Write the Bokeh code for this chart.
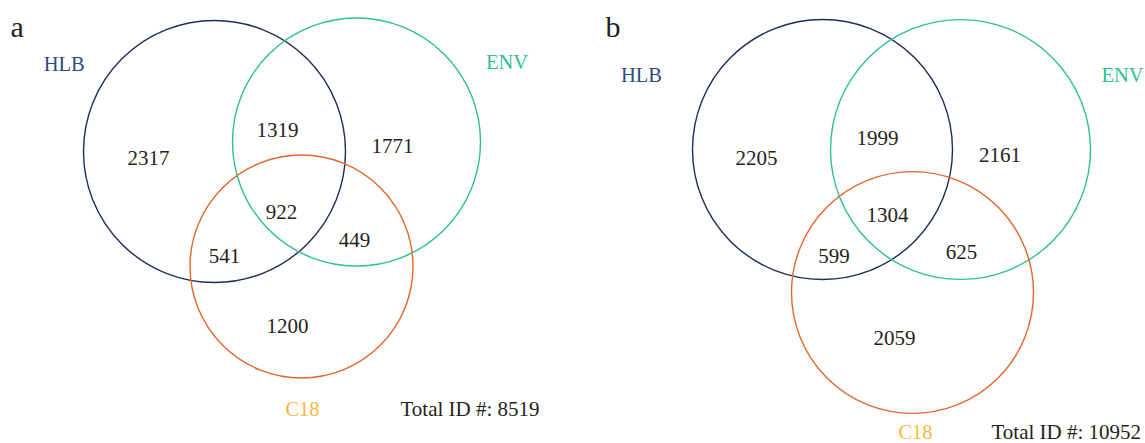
from bokeh.plotting import figure
from bokeh.models import Range1d, ColumnDataSource
from bokeh.core.properties import value
from bokeh.embed import file_html
from bokeh.resources import INLINE

# ---------------- data ----------------
sets = ["HLB", "ENV", "C18"]
regions = ["HLB only", "HLB&ENV", "ENV only", "HLB&ENV&C18", "HLB&C18", "ENV&C18", "C18 only"]
counts_a = [2317, 1319, 1771, 922, 541, 449, 1200]
counts_b = [2205, 1999, 2161, 1304, 599, 625, 2059]
total_a = 8519
total_b = 10952
panel_names = ["a", "b"]

# ---------------- layout (page pixel coordinates) ----------------
W, H = 1145, 443

circ_x_a = [214, 356, 301]
circ_y_a = [151, 141.5, 266]
circ_r_a = [131, 124, 111.5]
circ_x_b = [822, 960, 912]
circ_y_b = [149, 149, 292]
circ_r_b = [130, 130, 121]

num_x_a = [148, 277, 392, 281, 224, 354, 287]
num_y_a = [157.5, 129.5, 145.7, 211, 255.5, 239, 325.5]
num_x_b = [756, 877, 999.5, 887, 833.5, 961, 894]
num_y_b = [157, 137, 154, 214, 255, 251, 337]

set_lab_x_a = [63.7, 506.5, 302]
set_lab_y_a = [63.5, 61, 408]
set_lab_x_b = [641, 1122, 915]
set_lab_y_b = [74, 74, 431]

circle_colors = ["#1d2d55", "#2fbf96", "#e2672b"]
label_colors = ["#2f4b80", "#2fbf96", "#f5b83d"]
TEXT = "#231f20"
FONT = value("Liberation Serif")

p = figure(width=W, height=H, output_backend="svg", toolbar_location=None,
           x_range=Range1d(0, W), y_range=Range1d(H, 0),
           min_border=0, outline_line_color=None)
p.axis.visible = False
p.grid.visible = False
p.background_fill_color = "white"
p.border_fill_color = "white"

for cx, cy, cr, counts, lx, ly, nx, ny, total, tx, ty, name, px in [
    (circ_x_a, circ_y_a, circ_r_a, counts_a, set_lab_x_a, set_lab_y_a, num_x_a, num_y_a, total_a, 400, 408, "a", 10),
    (circ_x_b, circ_y_b, circ_r_b, counts_b, set_lab_x_b, set_lab_y_b, num_x_b, num_y_b, total_b, 991, 431, "b", 605),
]:
    src = ColumnDataSource(dict(x=cx, y=cy, r=cr, c=circle_colors))
    p.circle(x="x", y="y", radius="r", source=src, fill_color=None,
             line_color="c", line_width=1.4)
    lsrc = ColumnDataSource(dict(x=lx, y=ly, t=sets, c=label_colors))
    p.text(x="x", y="y", text="t", source=lsrc, text_color="c",
           text_font=FONT, text_font_size="20.5px",
           text_align="center", text_baseline="middle")
    nsrc = ColumnDataSource(dict(x=nx, y=ny, t=[str(v) for v in counts]))
    p.text(x="x", y="y", text="t", source=nsrc, text_color=TEXT,
           text_font=FONT, text_font_size="21px",
           text_align="center", text_baseline="middle")
    p.text(x=[tx], y=[ty], text=[f"Total ID #: {total}"], text_color=TEXT,
           text_font=FONT, text_font_size="21px",
           text_align="left", text_baseline="middle")
    p.text(x=[px], y=[26], text=[name], text_color=TEXT,
           text_font=FONT, text_font_size="30px",
           text_align="left", text_baseline="middle")

open("out.html", "w").write(file_html(p, INLINE))
